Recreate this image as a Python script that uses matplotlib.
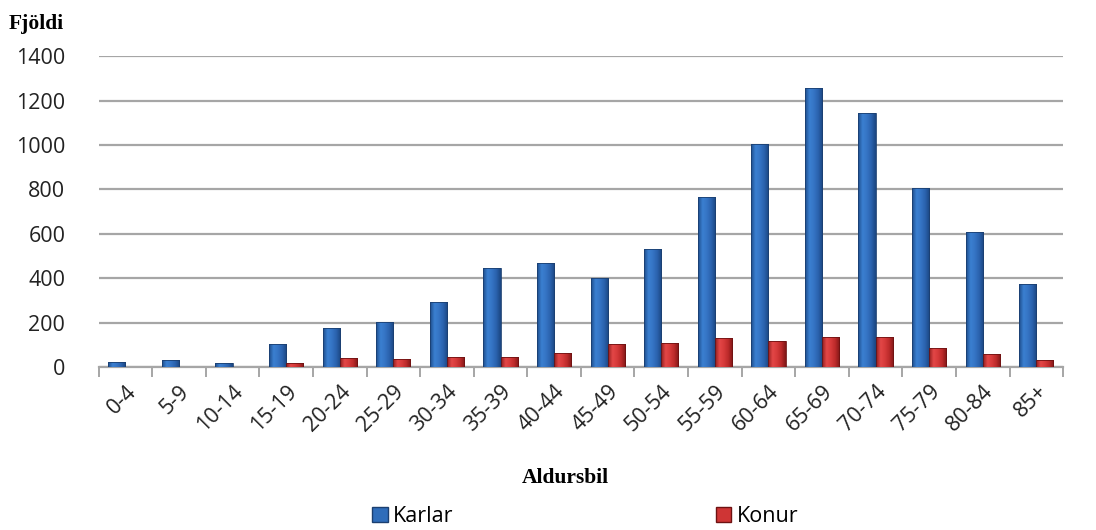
import numpy as np
import matplotlib
matplotlib.use("Agg")
import matplotlib.pyplot as plt
from matplotlib.colors import LinearSegmentedColormap
from matplotlib.patches import Patch

# Aldurshópar og fjöldi eftir kyni
aldur = ['0-4', '5-9', '10-14', '15-19', '20-24', '25-29', '30-34', '35-39',
         '40-44', '45-49', '50-54', '55-59', '60-64', '65-69', '70-74',
         '75-79', '80-84', '85+']
karlar = [22, 30, 18, 102, 175, 202, 295, 448, 470, 402, 532, 767, 1003,
          1258, 1146, 808, 610, 372]
konur = [2, 0, 0, 17, 40, 35, 45, 45, 62, 103, 108, 129, 116, 134, 134,
         84, 57, 30]

plt.rcParams['font.family'] = ['Open Sans', 'DejaVu Sans']

blue_map = LinearSegmentedColormap.from_list(
    'blar', ['#1d4c8a', '#3b80d2', '#3574c4', '#2a62ad', '#1b4580'])
red_map = LinearSegmentedColormap.from_list(
    'raudur', ['#8e1c1c', '#e44848', '#d63a3a', '#bb2a2a', '#7e1616'])


def gradient_bars(ax, bars, cmap, edge):
    grad = np.linspace(0, 1, 64).reshape(1, -1)
    for b in bars:
        x, y = b.get_x(), b.get_y()
        w, h = b.get_width(), b.get_height()
        if h <= 0:
            continue
        b.set_facecolor('none')
        b.set_edgecolor(edge)
        im = ax.imshow(grad, cmap=cmap, aspect='auto', extent=(x, x + w, y, y + h),
                       zorder=b.get_zorder() - 0.1, interpolation='bicubic')
        im.set_clip_path(b)


fig = plt.figure(figsize=(10.96, 5.30), dpi=100)
ax = fig.add_axes([0.090, 0.3075, 0.880, 0.5865])

x = np.arange(len(aldur))
w = 0.32
b1 = ax.bar(x - w / 2, karlar, w, zorder=3, linewidth=0.6)
b2 = ax.bar(x + w / 2, konur, w, zorder=3, linewidth=0.6)
gradient_bars(ax, b1, blue_map, '#1b3f70')
gradient_bars(ax, b2, red_map, '#6e1212')

ax.set_xlim(-0.5, len(aldur) - 0.5)
ax.set_ylim(0, 1400)
ax.set_yticks(range(0, 1401, 200))
ax.yaxis.grid(True, color='#a6a6a6', linewidth=1.6, zorder=0)
ax.set_axisbelow(True)

for s in ['top', 'right', 'left']:
    ax.spines[s].set_visible(False)
ax.spines['bottom'].set_color('#a6a6a6')
ax.spines['bottom'].set_linewidth(1.6)

ax.set_xticks(x)
ax.set_xticklabels(aldur, rotation=45, ha='right', rotation_mode='anchor',
                   fontsize=15.5, color='#222222')
ax.set_xticks(np.arange(-0.5, len(aldur)), minor=True)
ax.tick_params(axis='x', which='major', length=0, pad=10)
ax.tick_params(axis='x', which='minor', length=7, width=1.4, color='#a6a6a6')
ax.tick_params(axis='y', length=0, pad=24, labelsize=15.5, labelcolor='#222222')

fig.text(0.008, 0.955, 'Fjöldi', family='Liberation Serif', weight='bold',
         fontsize=15.5, va='center', ha='left')
fig.text(0.516, 0.098, 'Aldursbil', family='Liberation Serif', weight='bold',
         fontsize=15.5, va='center', ha='center')

handles = [Patch(facecolor='#2f6dba', edgecolor='#1b3f70', label='Karlar'),
           Patch(facecolor='#cf3535', edgecolor='#6e1212', label='Konur')]
fig.legend(handles=handles, loc='center', bbox_to_anchor=(0.534, 0.025),
           ncol=2, frameon=False, fontsize=15.5, handlelength=0.7,
           handleheight=0.7, handletextpad=0.25, columnspacing=12.2)

fig.savefig('out.png', dpi=100)
